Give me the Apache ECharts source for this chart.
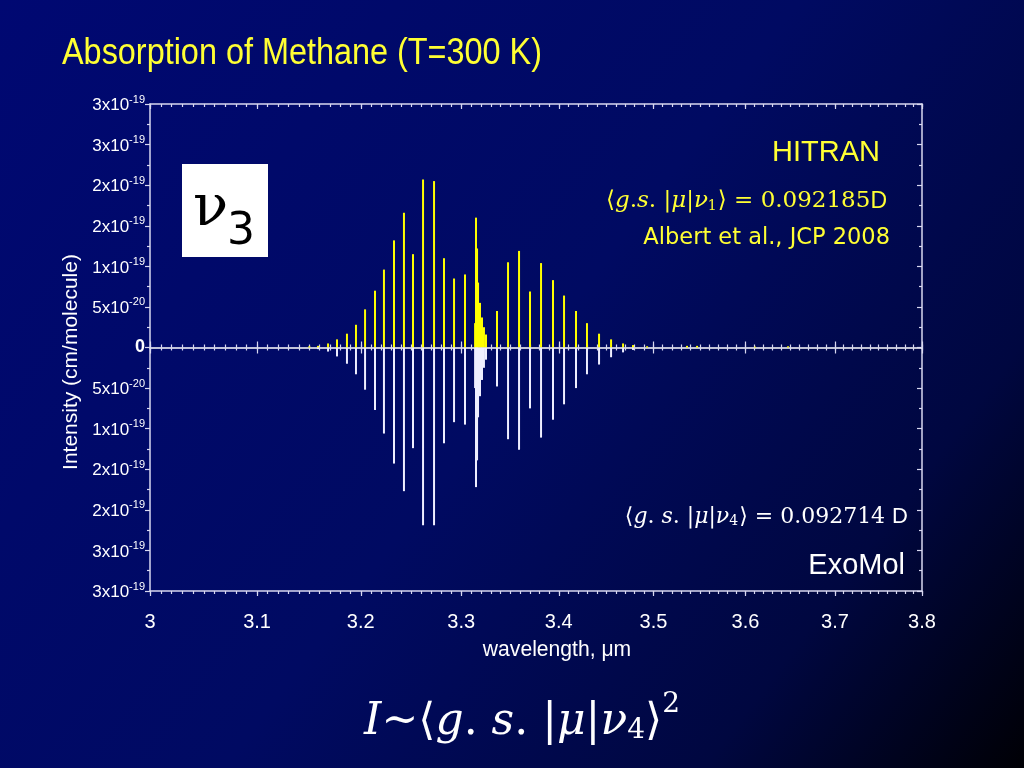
<!DOCTYPE html>
<html><head><meta charset="utf-8">
<script src="https://cdn.jsdelivr.net/npm/echarts@6/dist/echarts.min.js"></script>
<style>html,body{margin:0;padding:0;background:#000;}#c{width:1024px;height:768px;}</style>
</head><body><div id="c"></div>
<script>
// Wavelengths in micrometres; intensities in units of 1e-20 cm/molecule
const hitranWavelength = [3.1500, 3.1584, 3.1681, 3.1768, 3.1865, 3.1953, 3.2042, 3.2140, 3.2228, 3.2327, 3.2426, 3.2516, 3.2616, 3.2726, 3.2826, 3.2927, 3.3038,
  3.3140, 3.3149, 3.3160, 3.3170, 3.3190, 3.3210, 3.3230, 3.3251,
  3.3363, 3.3476, 3.3589, 3.3702, 3.3816, 3.3940, 3.4055, 3.4180, 3.4295, 3.4422, 3.4549, 3.4676, 3.4782, 3.4932, 3.5362, 3.5471, 3.6106, 3.6473];
const hitranIntensity = [0.15, 0.2, 0.5, 1.0, 1.7, 2.8, 4.7, 7.0, 9.6, 13.2, 16.6, 11.5, 20.7, 20.5, 11.0, 8.5, 9.0,
  3.0, 16.0, 12.2, 8.0, 5.5, 3.7, 2.5, 1.6,
  4.5, 10.5, 11.9, 6.9, 10.4, 8.3, 6.4, 4.5, 3.0, 1.7, 1.0, 0.5, 0.3, 0.15, 0.2, 0.2, 0.1, 0.15];
const exomolWavelength = [3.1584, 3.1681, 3.1768, 3.1865, 3.1953, 3.2042, 3.2140, 3.2228, 3.2327, 3.2426, 3.2516, 3.2616, 3.2726, 3.2826, 3.2927, 3.3038,
  3.3140, 3.3149, 3.3160, 3.3170, 3.3190, 3.3210, 3.3230, 3.3251,
  3.3363, 3.3476, 3.3589, 3.3702, 3.3816, 3.3940, 3.4055, 3.4180, 3.4295, 3.4422, 3.4549, 3.4676, 3.4782];
const exomolIntensity = [0.2, 0.5, 1.1, 2.0, 3.3, 5.2, 7.7, 10.6, 14.3, 17.7, 12.4, 21.9, 21.9, 11.8, 9.2, 9.5,
  5.0, 17.2, 13.9, 8.6, 6.0, 4.0, 2.5, 1.5,
  4.8, 11.3, 12.6, 7.5, 11.1, 8.9, 7.0, 5.0, 3.3, 2.1, 1.2, 0.6, 0.3];
const xTickValues = [3, 3.1, 3.2, 3.3, 3.4, 3.5, 3.6, 3.7, 3.8];
const xTickLabels = ['3', '3.1', '3.2', '3.3', '3.4', '3.5', '3.6', '3.7', '3.8'];
// y tick labels from bottom (-30) to top (+30), step 5 (x1e-20)
const yTickMantissa = ['3', '3', '2', '2', '1', '5', '0', '5', '1', '2', '2', '3', '3'];
const yTickExponent = ['-19', '-19', '-19', '-19', '-19', '-20', '', '-20', '-19', '-19', '-19', '-19', '-19'];

const X_MIN = 3, X_MAX = 3.8, Y_MIN = -30, Y_MAX = 30, Y_STEP = 5;
const minorX = [];
for (let i = 0; i <= 80; i++) minorX.push(+(3 + i * 0.01).toFixed(2));

const LINE = '#d8d8f0';
const SANS = '"Liberation Sans", Arial, sans-serif';
function xAxisBase(extra) {
  return Object.assign({
    type: 'log', logBase: 10, min: X_MIN, max: X_MAX, gridIndex: 0,
    splitLine: {show: false},
    axisLabel: {show: false},
    axisLine: {show: false, onZero: false, lineStyle: {color: LINE, width: 1.5}},
    axisTick: {show: false}
  }, extra);
}
function ticks(values, len, inside) {
  return {show: true, customValues: values, length: len, inside: inside, lineStyle: {color: LINE, width: 1.2}};
}
function zeroLine(show, color) {
  return {show: show, onZero: true, onZeroAxisIndex: 0, lineStyle: {color: color || '#ffffff', width: 1.5}};
}

const chart = echarts.init(document.getElementById('c'));
const option = {
  backgroundColor: {type: 'linear', x: 0, y: 0, x2: 1, y2: 1,
    colorStops: [{offset: 0, color: '#000872'}, {offset: 0.5, color: '#000a62'}, {offset: 0.8, color: '#000740'}, {offset: 1, color: '#000005'}]},
  animation: false,
  grid: {left: 150, right: 102, top: 104, bottom: 177, containLabel: false},
  xAxis: [
    xAxisBase({position: 'bottom', axisLine: {show: true, onZero: false, lineStyle: {color: LINE, width: 1.5}},
      axisTick: ticks(xTickValues, 5, false),
      axisLabel: {show: true, customValues: xTickValues, margin: 21, color: '#fff', fontSize: 20,
        fontFamily: SANS,
        formatter: v => { let b = 0; xTickValues.forEach((t, i) => { if (Math.abs(t - v) < Math.abs(xTickValues[b] - v)) b = i; }); return xTickLabels[b]; }}}),
    xAxisBase({position: 'bottom', axisTick: ticks(minorX, 3, false)}),
    xAxisBase({position: 'top', axisLine: {show: true, onZero: false, lineStyle: {color: LINE, width: 1.5}}, axisTick: ticks(xTickValues, 5, true)}),
    xAxisBase({position: 'top', axisTick: ticks(minorX, 3, true)}),
    xAxisBase({position: 'bottom', axisLine: zeroLine(true), axisTick: ticks(xTickValues, 6, true)}),
    xAxisBase({position: 'bottom', axisLine: zeroLine(false), axisTick: ticks(xTickValues, 6, false)}),
    xAxisBase({position: 'bottom', axisLine: zeroLine(false), axisTick: ticks(minorX, 3, true)}),
    xAxisBase({position: 'bottom', axisLine: zeroLine(false), axisTick: ticks(minorX, 3, false)})
  ],
  yAxis: [
    {type: 'value', position: 'left', min: Y_MIN, max: Y_MAX, interval: Y_STEP,
      splitLine: {show: false},
      axisLine: {show: true, onZero: false, lineStyle: {color: LINE, width: 1.5}},
      axisTick: {show: true, length: 5, inside: false, lineStyle: {color: LINE, width: 1.2}},
      minorTick: {show: true, splitNumber: 2, length: 3, lineStyle: {color: LINE, width: 1.2}},
      axisLabel: {show: true, margin: 5, color: '#fff', fontFamily: SANS, fontSize: 17,
        formatter: v => {
          const i = Math.round((v - Y_MIN) / Y_STEP);
          if (yTickExponent[i] === '') return '{zero|' + yTickMantissa[i] + '}';
          return '{m|' + yTickMantissa[i] + 'x10}{sup|' + yTickExponent[i] + '}';
        },
        rich: {
          m: {fontSize: 17, color: '#fff', fontFamily: SANS, lineHeight: 20, verticalAlign: 'bottom'},
          sup: {fontSize: 11, color: '#fff', fontFamily: SANS, lineHeight: 20, verticalAlign: 'top', padding: [0, 0, 8, 0]},
          zero: {fontSize: 18, fontWeight: 'bold', color: '#fff', fontFamily: SANS}
        }}},
    {type: 'value', position: 'right', min: Y_MIN, max: Y_MAX, interval: Y_STEP,
      splitLine: {show: false},
      axisLine: {show: true, onZero: false, lineStyle: {color: LINE, width: 1.5}},
      axisTick: {show: true, length: 5, inside: true, lineStyle: {color: LINE, width: 1.2}},
      minorTick: {show: true, splitNumber: 2, length: 3, lineStyle: {color: LINE, width: 1.2}},
      axisLabel: {show: false}}
  ],
  series: [
    {type: 'bar', name: 'HITRAN', xAxisIndex: 0, yAxisIndex: 0, barWidth: 2, barGap: '-100%', z: 3,
      itemStyle: {color: '#ffff00'},
      data: hitranWavelength.map((w, i) => [w, hitranIntensity[i]])},
    {type: 'bar', name: 'ExoMol', xAxisIndex: 0, yAxisIndex: 0, barWidth: 2, barGap: '-100%', z: 3,
      itemStyle: {color: '#eeeeff'},
      data: exomolWavelength.map((w, i) => [w, -exomolIntensity[i]])}
  ],
  graphic: [
    {type: 'text', x: 62, y: 54, scaleX: 0.9, style: {text: 'Absorption of Methane (T=300 K)', fill: '#ffff33',
      font: '36px ' + SANS, verticalAlign: 'middle'}},
    {type: 'text', x: 71, y: 362, rotation: Math.PI / 2, style: {text: 'Intensity (cm/molecule)', fill: '#fff',
      font: '21px ' + SANS, align: 'center', verticalAlign: 'middle'}},
    {type: 'text', x: 557, y: 650, scaleX: 0.96, style: {text: 'wavelength, μm', fill: '#fff',
      font: '22px ' + SANS, align: 'center', verticalAlign: 'middle'}},
    {type: 'rect', shape: {x: 182, y: 164, width: 86, height: 93}, style: {fill: '#ffffff'}},
    {type: 'text', x: 193, y: 210, style: {text: 'ν', fill: '#000', font: '58px "DejaVu Serif", serif', verticalAlign: 'middle'}},
    {type: 'text', x: 227, y: 233, style: {text: '3', fill: '#000', font: '44px "DejaVu Sans", sans-serif', verticalAlign: 'middle'}},
    {type: 'text', x: 880, y: 153, style: {text: 'HITRAN', fill: '#ffff33', font: '29px ' + SANS, align: 'right', verticalAlign: 'middle'}},
    {type: 'text', x: 887, y: 199, style: {
      text: '{u|⟨}{i|g}{u|.}{i|s}{u|. |}{i|μ}{u||}{i|ν}{s|1}{u|⟩ = 0.092185}{d|D}',
      align: 'right', verticalAlign: 'middle', fill: '#ffff33',
      rich: {
        u: {font: '23px "DejaVu Serif", serif', fill: '#ffff33', lineHeight: 28, verticalAlign: 'bottom'},
        i: {font: 'italic 23px "DejaVu Serif", serif', fill: '#ffff33', lineHeight: 28, verticalAlign: 'bottom'},
        s: {font: '14px "DejaVu Serif", serif', fill: '#ffff33', lineHeight: 26, verticalAlign: 'bottom', padding: [0, 1, 0, 0]},
        d: {font: '23px ' + SANS, fill: '#ffff33', lineHeight: 28, verticalAlign: 'bottom'}
      }}},
    {type: 'text', x: 890, y: 238, style: {text: 'Albert et al., JCP 2008', fill: '#ffff33', font: '22.5px "DejaVu Sans", sans-serif', align: 'right', verticalAlign: 'middle'}},
    {type: 'text', x: 908, y: 514, style: {
      text: '{u|⟨}{i|g}{u|. }{i|s}{u|. |}{i|μ}{u||}{i|ν}{s|4}{u|⟩ = 0.092714 }{d|D}',
      align: 'right', verticalAlign: 'middle', fill: '#fff',
      rich: {
        u: {font: '22px "DejaVu Serif", serif', fill: '#fff', lineHeight: 28, verticalAlign: 'bottom'},
        i: {font: 'italic 22px "DejaVu Serif", serif', fill: '#fff', lineHeight: 28, verticalAlign: 'bottom'},
        s: {font: '14px "DejaVu Serif", serif', fill: '#fff', lineHeight: 26, verticalAlign: 'bottom', padding: [0, 1, 0, 0]},
        d: {font: '22px ' + SANS, fill: '#fff', lineHeight: 28, verticalAlign: 'bottom'}
      }}},
    {type: 'text', x: 905, y: 566, style: {text: 'ExoMol', fill: '#fff', font: '29px ' + SANS, align: 'right', verticalAlign: 'middle'}},
    {type: 'text', x: 522, y: 718, style: {
      text: '{i|I~}{u|⟨}{i|g}{u|. }{i|s}{u|. |}{i|μ}{u||}{i|ν}{s|4}{u|⟩}{p|2}',
      align: 'center', verticalAlign: 'middle',
      rich: {
        u: {font: '44px "DejaVu Serif", serif', fill: '#fff', lineHeight: 54, verticalAlign: 'bottom'},
        i: {font: 'italic 44px "DejaVu Serif", serif', fill: '#fff', lineHeight: 54, verticalAlign: 'bottom'},
        s: {font: '28px "DejaVu Serif", serif', fill: '#fff', lineHeight: 46, verticalAlign: 'bottom'},
        p: {font: '28px "DejaVu Serif", serif', fill: '#fff', lineHeight: 54, verticalAlign: 'top'}
      }}}
  ]
};
chart.setOption(option);
</script>
</body></html>
